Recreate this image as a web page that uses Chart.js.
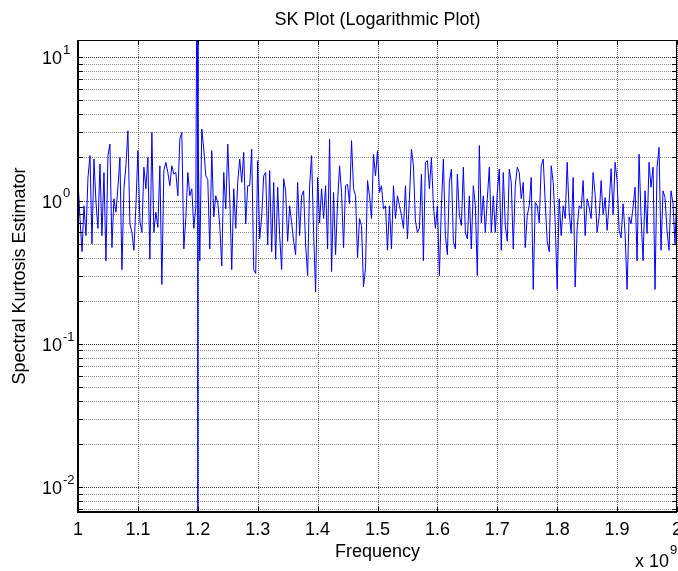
<!DOCTYPE html>
<html>
<head>
<meta charset="utf-8">
<title>SK Plot</title>
<script src="https://cdn.jsdelivr.net/npm/chart.js@4.4.1/dist/chart.umd.min.js"></script>
<style>
  html, body { margin: 0; padding: 0; background: #fff; }
  #wrap { width: 678px; height: 571px; }
</style>
</head>
<body>
<div id="wrap"><canvas id="skChart" width="678" height="571"></canvas></div>
<script>
// frequency bins, 1 GHz .. 2 GHz
const freqStart = 1.0e9;
const freqEnd = 2.0e9;
const binCount = 301;

// spectral kurtosis estimate per bin
const skValues = [
  1.38, 0.75, 0.44, 0.92, 0.57, 1.45, 2.06, 0.5, 1.95, 0.97,
  0.64, 1.8, 0.57, 1.57, 0.38, 2.06, 2.48, 0.47, 1.03, 0.83,
  1.24, 2.0, 0.33, 1.21, 1.75, 3.07, 0.69, 0.6, 0.45, 0.92,
  2.23, 0.72, 0.6, 1.71, 1.21, 2.0, 0.39, 2.99, 0.6, 0.83,
  0.65, 1.75, 0.26, 1.62, 1.85, 1.57, 1.27, 1.75, 1.53, 1.57,
  1.08, 2.69, 2.99, 0.46, 0.75, 1.57, 1.08, 1.21, 0.64, 0.9,
  3.8, 0.38, 3.16, 2.29, 1.49, 1.4, 0.46, 2.23, 0.77, 1.08,
  0.97, 0.67, 0.35, 1.57, 0.875, 2.48, 1.03, 0.33, 1.21, 0.64,
  1.34, 1.95, 1.34, 2.17, 0.69, 1.27, 1.27, 2.29, 0.33, 0.31,
  1.9, 0.54, 0.77, 1.49, 1.57, 0.49, 1.62, 0.44, 1.34, 0.39,
  1.24, 0.57, 0.33, 1.42, 1.17, 0.52, 0.92, 0.7, 0.52, 0.42,
  1.34, 0.57, 1.08, 1.17, 0.49, 0.3, 1.27, 2.06, 0.6, 0.23,
  1.45, 0.7, 1.21, 0.75, 1.27, 0.46, 2.69, 0.32, 1.14, 0.42,
  0.97, 1.75, 1.14, 0.47, 1.27, 1.3, 0.95, 2.62, 1.21, 1.08,
  0.4, 0.75, 0.67, 0.25, 0.34, 1.38, 1.08, 0.75, 2.1, 1.49,
  2.23, 1.14, 1.27, 0.875, 0.92, 0.45, 0.92, 0.46, 1.27, 0.75,
  1.08, 0.92, 0.79, 0.64, 1.27, 0.54, 1.03, 2.29, 1.75, 0.72,
  0.6, 0.64, 1.53, 0.38, 1.85, 1.9, 1.21, 2.0, 0.92, 0.64,
  0.92, 0.3, 0.92, 1.95, 0.57, 0.42, 1.34, 1.66, 0.52, 0.46,
  1.53, 0.79, 0.67, 1.71, 0.6, 0.54, 1.08, 0.46, 1.27, 0.92,
  0.3, 2.42, 0.7, 1.08, 0.6, 1.03, 1.71, 0.6, 1.08, 0.6,
  1.14, 1.66, 0.45, 1.57, 0.67, 0.52, 1.66, 1.34, 0.46, 1.27,
  1.71, 1.57, 1.03, 1.34, 0.47, 0.79, 0.92, 1.45, 0.24, 0.97,
  0.92, 0.7, 1.75, 1.95, 0.97, 0.52, 0.44, 1.75, 1.34, 0.7,
  0.24, 1.03, 0.57, 0.92, 0.75, 1.85, 0.83, 0.59, 1.45, 0.25,
  0.64, 0.92, 0.88, 1.38, 0.57, 1.03, 0.9, 0.75, 1.57, 1.1,
  0.6, 0.77, 1.38, 0.8, 1.05, 0.62, 0.95, 1.67, 0.8, 1.85,
  1.38, 0.62, 0.55, 0.95, 0.59, 0.24, 0.77, 0.69, 0.9, 1.24,
  0.38, 2.11, 0.77, 0.38, 1.17, 0.59, 1.85, 1.24, 1.71, 0.24,
  1.71, 2.35, 0.45, 1.17, 1.05, 0.62, 0.45, 1.17, 0.95, 0.5,
  1.24
];

// the 1.2 GHz bin blows up past both ends of the axis
const spikeBin = 60;
const spikeValues = [1000, 0.0001];

// axis ranges and ticks
const yMin = 0.00672;
const yMax = 13.2;
const yDecades = [-3, -2, -1, 0, 1];
const yLabelDecades = [-2, -1, 0, 1];
const yMinorSteps = [2, 3, 4, 5, 6, 7, 8, 9];
const xTicks = [1.0e9, 1.1e9, 1.2e9, 1.3e9, 1.4e9, 1.5e9, 1.6e9, 1.7e9, 1.8e9, 1.9e9, 2.0e9];
const xTickLabels = ['1', '1.1', '1.2', '1.3', '1.4', '1.5', '1.6', '1.7', '1.8', '1.9', '2'];

const FONT = '"Liberation Sans", Arial, Helvetica, sans-serif';

// build the points
const freqStep = (freqEnd - freqStart) / (binCount - 1);
const points = [];
for (let i = 0; i < binCount; i++) {
    const f = freqStart + i * freqStep;
    if (i === spikeBin) {
        spikeValues.forEach(v => points.push({ x: f, y: v }));
    }
    points.push({ x: f, y: skValues[i] });
}

// all horizontal grid values (decades + minor steps) inside the range
const yGrid = [];
yDecades.forEach(d => {
    const base = Math.pow(10, d);
    [1].concat(yMinorSteps).forEach(m => {
        const v = m * base;
        if (v >= yMin && v <= yMax) yGrid.push({ v: v, major: m === 1 });
    });
});

function drawLine(ctx, x1, y1, x2, y2) {
    ctx.beginPath();
    ctx.moveTo(x1, y1);
    ctx.lineTo(x2, y2);
    ctx.stroke();
}

const matlabAxes = {
    id: 'matlabAxes',
    beforeDraw(chart) {
        const ctx = chart.ctx;
        ctx.save();
        ctx.fillStyle = '#fff';
        ctx.fillRect(0, 0, chart.width, chart.height);
        ctx.restore();
    },
    beforeDatasetsDraw(chart) {
        const { ctx, chartArea: a, scales: { x, y } } = chart;
        ctx.save();
        ctx.lineWidth = 1;
        ctx.setLineDash([1, 1]);
        yGrid.forEach(g => {
            const py = Math.round(y.getPixelForValue(g.v)) + 0.5;
            ctx.strokeStyle = g.major ? '#333' : '#8a8a8a';
            drawLine(ctx, a.left, py, a.right, py);
        });
        ctx.strokeStyle = '#555';
        xTicks.forEach(t => {
            const px = Math.round(x.getPixelForValue(t)) + 0.5;
            drawLine(ctx, px, a.top, px, a.bottom);
        });
        ctx.restore();
    },
    afterDatasetsDraw(chart) {
        const { ctx, chartArea: a, scales: { x, y } } = chart;
        ctx.save();
        ctx.setLineDash([]);
        ctx.strokeStyle = '#000';

        // box
        ctx.lineWidth = 1;
        ctx.strokeRect(a.left + 0.5, a.top + 0.5, a.right - a.left - 1, a.bottom - a.top);
        ctx.lineWidth = 2;
        drawLine(ctx, a.left, a.top, a.left, a.bottom + 1);
        drawLine(ctx, a.left, a.bottom, a.right, a.bottom);

        // inward ticks
        ctx.lineWidth = 1;
        xTicks.forEach(t => {
            const px = Math.round(x.getPixelForValue(t)) + 0.5;
            drawLine(ctx, px, a.top, px, a.top + 5);
            drawLine(ctx, px, a.bottom, px, a.bottom - 5);
        });
        yGrid.forEach(g => {
            const py = Math.round(y.getPixelForValue(g.v)) + 0.5;
            drawLine(ctx, a.left, py, a.left + 5, py);
            drawLine(ctx, a.right, py, a.right - 5, py);
        });

        ctx.fillStyle = '#000';

        // x tick labels
        ctx.font = '18px ' + FONT;
        ctx.textAlign = 'center';
        ctx.textBaseline = 'middle';
        xTicks.forEach((t, i) => {
            ctx.fillText(xTickLabels[i], x.getPixelForValue(t), 530);
        });

        // y tick labels as 10 with a raised exponent
        yLabelDecades.forEach(d => {
            const py = y.getPixelForValue(Math.pow(10, d));
            ctx.font = '18px ' + FONT;
            ctx.textAlign = 'right';
            ctx.textBaseline = 'middle';
            ctx.fillText('10', 62, py + 2);
            ctx.font = '13px ' + FONT;
            ctx.textAlign = 'left';
            ctx.fillText(String(d), 63, py - 7);
        });

        // title and axis titles
        ctx.font = '18px ' + FONT;
        ctx.textAlign = 'center';
        ctx.fillText('SK Plot (Logarithmic Plot)', (a.left + a.right) / 2, 20);
        ctx.fillText('Frequency', (a.left + a.right) / 2, 552);

        ctx.save();
        ctx.translate(20, (a.top + a.bottom) / 2);
        ctx.rotate(-Math.PI / 2);
        ctx.fillText('Spectral Kurtosis Estimator', 0, 0);
        ctx.restore();

        // x10^9 multiplier
        ctx.textAlign = 'left';
        ctx.fillText('x 10', 635, 562);
        ctx.font = '13px ' + FONT;
        ctx.fillText('9', 670, 550);

        ctx.restore();
    }
};

new Chart(document.getElementById('skChart').getContext('2d'), {
    type: 'line',
    data: {
        datasets: [{
            data: points,
            borderColor: '#0000ff',
            borderWidth: 1,
            pointRadius: 0,
            tension: 0,
            fill: false
        }]
    },
    options: {
        responsive: false,
        animation: false,
        layout: { padding: { left: 78, right: 1, top: 40, bottom: 59 } },
        plugins: {
            legend: { display: false },
            tooltip: { enabled: false }
        },
        scales: {
            x: { type: 'linear', min: freqStart, max: freqEnd, display: false },
            y: { type: 'logarithmic', min: yMin, max: yMax, display: false }
        }
    },
    plugins: [matlabAxes]
});
</script>
</body>
</html>
